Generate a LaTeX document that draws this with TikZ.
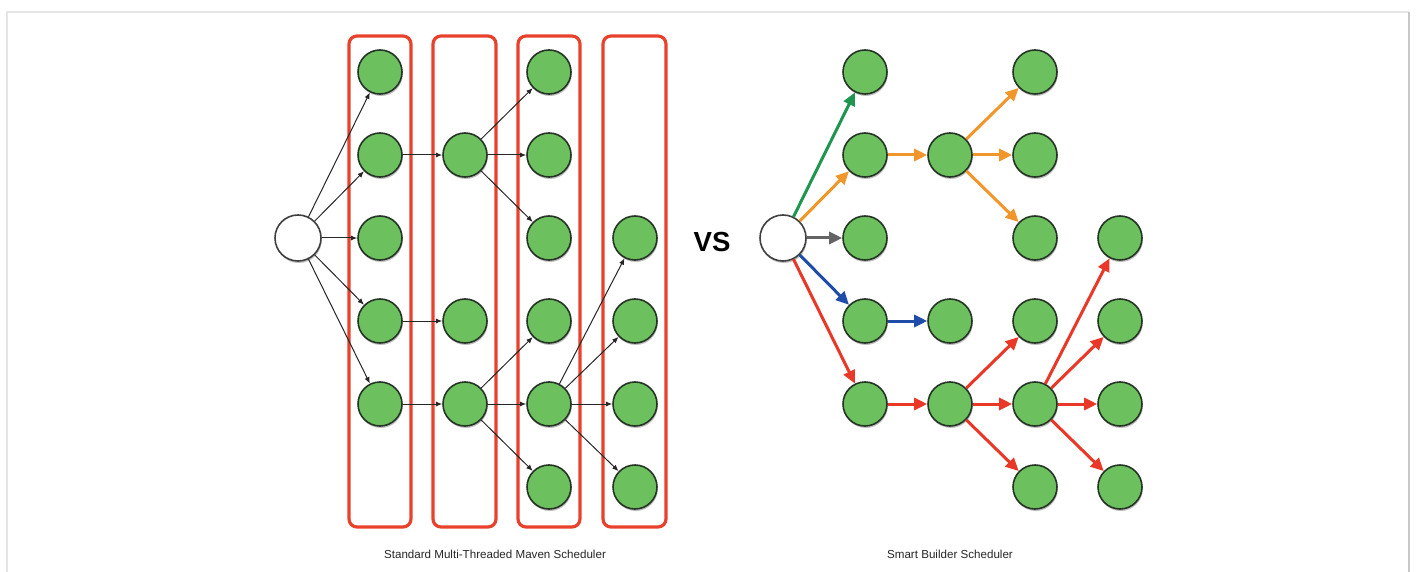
\documentclass[tikz,border=0pt]{standalone}
\usepackage{fontspec}
\setmainfont{Liberation Sans}
\usetikzlibrary{arrows.meta,shadows}
\definecolor{nodegreen}{RGB}{108,192,94}
\definecolor{nodeedge}{RGB}{38,52,38}
\definecolor{boxred}{RGB}{232,66,44}
\definecolor{agreen}{RGB}{30,150,80}
\definecolor{aorange}{RGB}{241,150,42}
\definecolor{agray}{RGB}{100,100,100}
\definecolor{ablue}{RGB}{30,76,168}
\definecolor{ared}{RGB}{234,56,40}
\tikzset{
  task/.style={circle, draw=nodeedge, line width=0.8pt, fill=nodegreen,
    minimum size=22pt, inner sep=0pt,
    drop shadow={shadow xshift=0.4pt, shadow yshift=-1pt, opacity=0.25, fill=black}},
  root/.style={task, fill=white, minimum size=23pt, draw=black!75},
  lane/.style={draw=boxred, line width=1.6pt, rounded corners=4pt},
  thin/.style={-{Latex[length=3.2pt,width=2.6pt]}, line width=0.5pt, draw=black!85},
  fat/.style={-{Triangle[length=6.5pt,width=6pt]}, line width=1.5pt},
  caption/.style={font=\fontsize{5.8}{7}\selectfont, text=black!85}
}
\begin{document}
\begin{tikzpicture}[x=0.5pt,y=-0.5pt]
\useasboundingbox (0,0) rectangle (1418,572);
\fill[white] (0,0) rectangle (1418,572);
% page frame
\draw[black!10, line width=1.2pt] (7,600) -- (7,12) -- (1409,12);
\draw[black!22, line width=1.4pt] (1409,12) -- (1409,600);

% ---------- standard scheduler ----------
\draw[lane] (349,36) rectangle (411,527);
\draw[lane] (433,36) rectangle (496,527);
\draw[lane] (518,36) rectangle (580,527);
\draw[lane] (603,36) rectangle (666,527);

\node[root] (s) at (298,238) {};
\foreach \r/\y in {1/72,2/155,3/238,4/321,5/404}
  \node[task] (a\r) at (380,\y) {};
\foreach \r/\y in {2/155,4/321,5/404}
  \node[task] (b\r) at (465,\y) {};
\foreach \r/\y in {1/72,2/155,3/238,4/321,5/404,6/487}
  \node[task] (c\r) at (549,\y) {};
\foreach \r/\y in {3/238,4/321,5/404,6/487}
  \node[task] (d\r) at (635,\y) {};

\foreach \t in {a1,a2,a3,a4,a5} \draw[thin] (s) -- (\t);
\draw[thin] (a2) -- (b2);
\draw[thin] (a4) -- (b4);
\draw[thin] (a5) -- (b5);
\foreach \t in {c1,c2,c3} \draw[thin] (b2) -- (\t);
\foreach \t in {c4,c5,c6} \draw[thin] (b5) -- (\t);
\foreach \t in {d3,d4,d5,d6} \draw[thin] (c5) -- (\t);

\node[caption] (capL) at (495,554) {Standard Multi-Threaded Maven Scheduler};

\node[font=\fontsize{13.8}{16}\selectfont\bfseries] (vs) at (712,242) {VS};

% ---------- smart builder ----------
\node[root] (t) at (783,238) {};
\foreach \r/\y in {1/72,2/155,3/238,4/321,5/404}
  \node[task] (e\r) at (865,\y) {};
\foreach \r/\y in {2/155,4/321,5/404}
  \node[task] (f\r) at (950,\y) {};
\foreach \r/\y in {1/72,2/155,3/238,4/321,5/404,6/487}
  \node[task] (g\r) at (1035,\y) {};
\foreach \r/\y in {3/238,4/321,5/404,6/487}
  \node[task] (h\r) at (1120,\y) {};

\draw[fat, agreen] (t) -- (e1);
\draw[fat, aorange] (t) -- (e2);
\draw[fat, agray] (t) -- (e3);
\draw[fat, ablue] (t) -- (e4);
\draw[fat, ared] (t) -- (e5);
\draw[fat, aorange] (e2) -- (f2);
\foreach \t in {g1,g2,g3} \draw[fat, aorange] (f2) -- (\t);
\draw[fat, ablue] (e4) -- (f4);
\draw[fat, ared] (e5) -- (f5);
\foreach \t in {g4,g5,g6} \draw[fat, ared] (f5) -- (\t);
\foreach \t in {h3,h4,h5,h6} \draw[fat, ared] (g5) -- (\t);

\node[caption] (capR) at (950,554) {Smart Builder Scheduler};
\end{tikzpicture}
\end{document}
